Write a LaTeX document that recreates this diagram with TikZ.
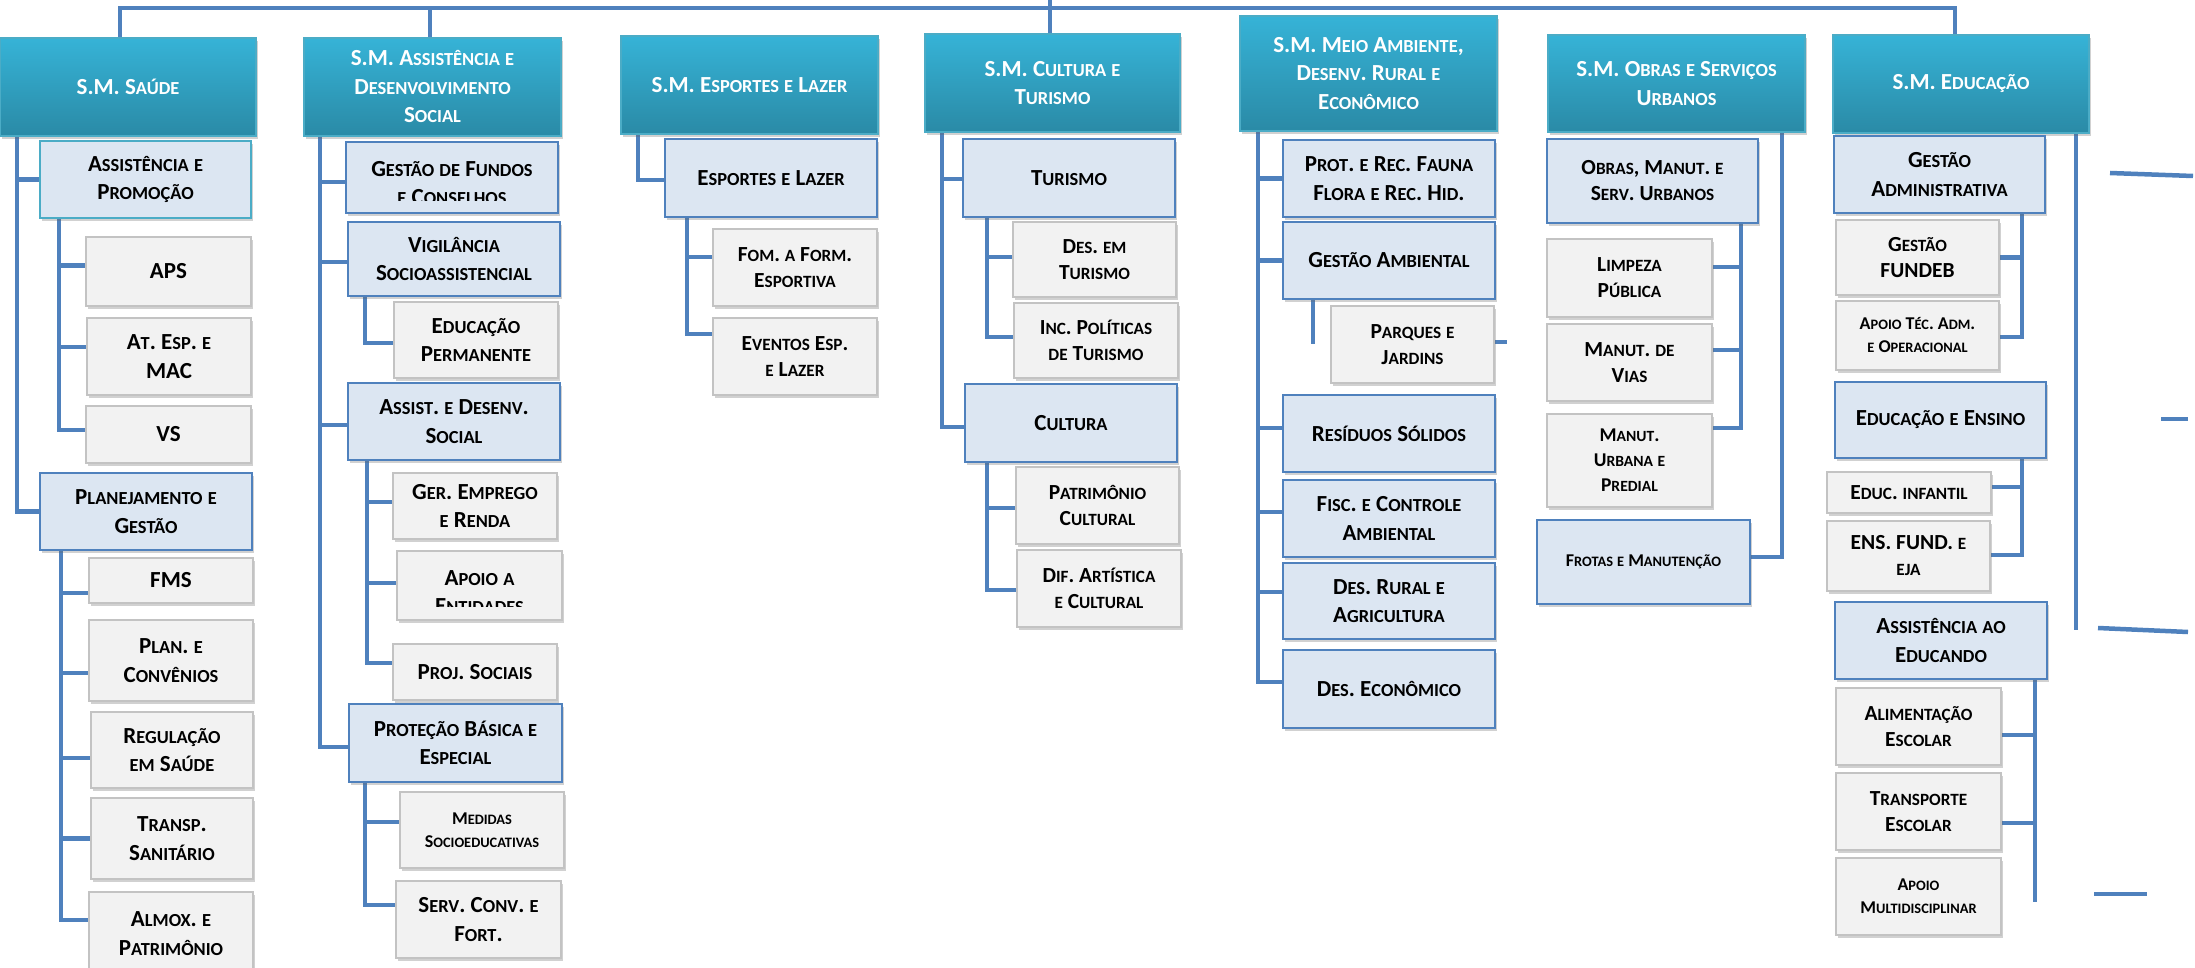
\documentclass[tikz,border=0pt]{standalone}
\usepackage{fontspec}
\setmainfont{Carlito}
\usetikzlibrary{shadows,backgrounds}
\definecolor{lineblue}{HTML}{4F81BD}
\definecolor{hdrtop}{HTML}{36B3D7}
\definecolor{hdrbot}{HTML}{2A8AA6}
\definecolor{hdrborder}{HTML}{4BACC6}
\definecolor{lonefill}{HTML}{DCE6F2}
\definecolor{ltwofill}{HTML}{F2F2F2}
\definecolor{ltwoborder}{HTML}{C3C3C3}
\ExplSyntaxOn
\tl_new:N \l__fsc_tl
\cs_new:Npn \fsc_space: {}
\cs_new_protected:Npn \__fsc_sm:n #1
  { { \fontsize{\fp_eval:n{0.8*\use:c{f@size}}}{0pt}\selectfont #1 } }
\cs_new_protected:Npn \__fsc_char:n #1
  {
    \token_if_eq_meaning:NNTF #1 \fsc_space:
      { ~ }
      {
        \str_if_eq:eeTF { #1 } { \text_uppercase:n { #1 } }
          { #1 }
          { \__fsc_sm:n { \text_uppercase:n { #1 } } }
      }
  }
\cs_new_protected:Npn \fsc #1
  {
    \tl_set:Nn \l__fsc_tl {#1}
    \tl_replace_all:Nnn \l__fsc_tl { ~ } { \fsc_space: }
    \tl_map_function:NN \l__fsc_tl \__fsc_char:n
  }
\ExplSyntaxOff
\tikzset{
  cbox/.style={anchor=north west, inner sep=1pt, outer sep=0pt, align=center, text=black,
    font=\bfseries\fontsize{23}{28.5}\selectfont},
  shd/.style={drop shadow={shadow xshift=2pt, shadow yshift=-3pt, opacity=0.3, fill=black!60}},
  hdr/.style={cbox, shd, draw=hdrborder, line width=2pt, top color=hdrtop, bottom color=hdrbot, text=white},
  lone/.style={cbox, shd, draw=lineblue, line width=2.5pt, fill=lonefill},
  ltwo/.style={cbox, shd, draw=ltwoborder, line width=2.5pt, fill=ltwofill},
  fmid/.style={font=\bfseries\fontsize{21.5}{26}\selectfont},
  fsmall/.style={font=\bfseries\fontsize{18}{23}\selectfont},
  txt/.style={align=center, inner sep=0pt, text=black, font=\bfseries\fontsize{23}{28.5}\selectfont},
  conn/.style={draw=lineblue, line width=4.5pt, line cap=rect},
  stray/.style={draw=lineblue, line width=4.5pt, line cap=butt}
}
\newcommand{\orgbox}[7]{\node[#1, minimum width={#5-#3}, minimum height={#6-#4}] (#2) at (#3,#4) {#7};}
\begin{document}
\begin{tikzpicture}[x=1pt,y=-1pt]
\useasboundingbox (0,0) rectangle (2195,968);
% headers
\orgbox{hdr}{h1}{0}{38}{256}{136}{\fsc{S.M. Saúde}}
\orgbox{hdr}{h2}{304}{38}{561}{136}{\fsc{S.M. Assistência e}\\\fsc{Desenvolvimento}\\\fsc{Social}}
\orgbox{hdr}{h3}{621}{36}{878}{134}{\fsc{S.M. Esportes e Lazer}}
\orgbox{hdr}{h4}{925}{34}{1180}{132}{\fsc{S.M. Cultura e}\\\fsc{Turismo}}
\orgbox{hdr}{h5}{1240}{16}{1497}{131}{\fsc{S.M. Meio Ambiente,}\\\fsc{Desenv. Rural e}\\\fsc{Econômico}}
\orgbox{hdr}{h6}{1548}{35}{1805}{132}{\fsc{S.M. Obras e Serviços}\\\fsc{Urbanos}}
\orgbox{hdr}{h7}{1833}{35}{2089}{133}{\fsc{S.M. Educação}}
% column 1
\orgbox{lone,draw=hdrborder}{a1}{40}{141}{251}{218}{\fsc{Assistência e}\\\fsc{Promoção}}
\orgbox{ltwo}{aps}{86}{237}{251}{306}{APS}
\orgbox{ltwo}{mac}{87}{318}{251}{395}{\fsc{At. Esp. e}\\MAC}
\orgbox{ltwo}{vs}{86}{406}{251}{463}{VS}
\orgbox{lone}{p1}{40}{473}{252}{550}{\fsc{Planejamento e}\\\fsc{Gestão}}
\orgbox{ltwo}{fms}{89}{558}{253}{603}{FMS}
\orgbox{ltwo}{pc}{89}{620}{253}{701}{\fsc{Plan. e}\\\fsc{Convênios}}
\orgbox{ltwo}{rg}{91}{712}{253}{788}{\fsc{Regulação}\\\fsc{em Saúde}}
\orgbox{ltwo}{ts}{91}{798}{253}{879}{\fsc{Transp.}\\\fsc{Sanitário}}
\orgbox{ltwo}{ax}{89}{892}{253}{975}{\fsc{Almox. e}\\\fsc{Patrimônio}}
% column 2
\orgbox{lone}{gf}{346}{142}{558}{213}{}
\begin{scope}
\clip (346,142) rectangle (558,201);
\node[txt] (gftext) at (452,183) {\fsc{Gestão de Fundos}\\\fsc{e Conselhos}};
\end{scope}
\orgbox{lone}{vg}{348}{222}{560}{296}{\fsc{Vigilância}\\\fsc{Socioassistencial}}
\orgbox{ltwo}{ep}{394}{302}{558}{378}{\fsc{Educação}\\\fsc{Permanente}}
\orgbox{lone}{ad}{348}{383}{560}{460}{\fsc{Assist. e Desenv.}\\\fsc{Social}}
\orgbox{ltwo}{ge}{393}{473}{557}{539}{\fsc{Ger. Emprego}\\\fsc{e Renda}}
\orgbox{ltwo}{ae}{397}{551}{562}{620}{}
\begin{scope}
\clip (397,551) rectangle (562,606);
\node[txt] (aetext) at (479.5,592) {\fsc{Apoio a}\\\fsc{Entidades}};
\end{scope}
\orgbox{ltwo}{ps}{393}{644}{557}{700}{\fsc{Proj. Sociais}}
\orgbox{lone}{pb}{349}{704}{562}{782}{\fsc{Proteção Básica e}\\\fsc{Especial}}
\orgbox{ltwo,fsmall}{md}{400}{792}{564}{868}{\fsc{Medidas}\\\fsc{Socioeducativas}}
\orgbox{ltwo}{sc}{396}{881}{561}{958}{\fsc{Serv. Conv. e}\\\fsc{Fort.}}
% column 3
\orgbox{lone}{el}{665}{139}{877}{217}{\fsc{Esportes e Lazer}}
\orgbox{ltwo,fmid}{fo}{713}{229}{877}{306}{\fsc{Fom. a Form.}\\\fsc{Esportiva}}
\orgbox{ltwo,fmid}{ev}{713}{318}{877}{395}{\fsc{Eventos Esp.}\\\fsc{e Lazer}}
% column 4
\orgbox{lone}{tu}{963}{139}{1175}{217}{\fsc{Turismo}}
\orgbox{ltwo,fmid}{dt}{1013}{222}{1176}{297}{\fsc{Des. em}\\\fsc{Turismo}}
\orgbox{ltwo,fmid}{ip}{1014}{303}{1178}{378}{\fsc{Inc. Políticas}\\\fsc{de Turismo}}
\orgbox{lone}{cu}{965}{384}{1177}{462}{\fsc{Cultura}}
\orgbox{ltwo,fmid}{pa}{1016}{467}{1179}{544}{\fsc{Patrimônio}\\\fsc{Cultural}}
\orgbox{ltwo,fmid}{da}{1017}{550}{1181}{627}{\fsc{Dif. Artística}\\\fsc{e Cultural}}
% column 5
\orgbox{lone}{pr}{1283}{140}{1495}{217}{\fsc{Prot. e Rec. Fauna}\\\fsc{Flora e Rec. Hid.}}
\orgbox{lone}{ga}{1283}{222}{1495}{299}{\fsc{Gestão Ambiental}}
\orgbox{ltwo,fmid}{pj}{1331}{306}{1494}{383}{\fsc{Parques e}\\\fsc{Jardins}}
\orgbox{lone}{rs}{1283}{395}{1495}{472}{\fsc{Resíduos Sólidos}}
\orgbox{lone}{fc}{1283}{480}{1495}{557}{\fsc{Fisc. e Controle}\\\fsc{Ambiental}}
\orgbox{lone}{dr}{1283}{563}{1495}{639}{\fsc{Des. Rural e}\\\fsc{Agricultura}}
\orgbox{lone}{de}{1283}{650}{1495}{728}{\fsc{Des. Econômico}}
% column 6
\orgbox{lone,fmid}{om}{1547}{139}{1758}{223}{\fsc{Obras, Manut. e}\\\fsc{Serv. Urbanos}}
\orgbox{ltwo,fmid}{lp}{1547}{239}{1712}{317}{\fsc{Limpeza}\\\fsc{Pública}}
\orgbox{ltwo,fmid}{mv}{1547}{324}{1712}{401}{\fsc{Manut. de}\\\fsc{Vias}}
\orgbox{ltwo,font=\bfseries\fontsize{19.5}{25}\selectfont}{mu}{1547}{414}{1712}{507}{\fsc{Manut.}\\\fsc{Urbana e}\\\fsc{Predial}}
\orgbox{lone,fsmall}{fr}{1537}{520}{1750}{604}{\fsc{Frotas e Manutenção}}
% column 7
\orgbox{lone}{gd}{1834}{136}{2045}{213}{\fsc{Gestão}\\\fsc{Administrativa}}
\orgbox{ltwo,fmid}{fu}{1836}{220}{1999}{295}{\fsc{Gestão}\\\fsc{FUNDEB}}
\orgbox{ltwo,fsmall}{atop}{1836}{301}{1999}{370}{\fsc{Apoio Téc. Adm.}\\\fsc{e Operacional}}
\orgbox{lone}{ee}{1835}{382}{2046}{458}{\fsc{Educação e Ensino}}
\orgbox{ltwo,fmid}{ei}{1827}{472}{1991}{513}{\fsc{Educ. infantil}}
\orgbox{ltwo,fmid}{ef}{1827}{521}{1990}{591}{\fsc{ENS. FUND. e}\\\fsc{eja}}
\orgbox{lone}{ax7}{1835}{602}{2047}{679}{\fsc{Assistência ao}\\\fsc{Educando}}
\orgbox{ltwo,fmid}{al}{1836}{688}{2001}{765}{\fsc{Alimentação}\\\fsc{Escolar}}
\orgbox{ltwo,fmid}{tes}{1836}{773}{2001}{850}{\fsc{Transporte}\\\fsc{Escolar}}
\orgbox{ltwo,fsmall}{am}{1836}{858}{2001}{935}{\fsc{Apoio}\\\fsc{Multidisciplinar}}
% connectors
\begin{pgfonlayer}{background}
\coordinate (topleft) at (120,8);
\coordinate (topright) at (1955,8);
\draw[conn] ([xshift=120pt]h1.north west) -- (topleft) -- (topright) -- ([xshift=122pt]h7.north west);
\draw[conn] ([xshift=126pt]h2.north west) -- ++(0,-30);
\draw[conn] ([xshift=125pt]h4.north west) -- ++(0,-36);
% col 1
\draw[conn] ([xshift=17pt]h1.south west) |- (a1.west);
\draw[conn] ([xshift=17pt]h1.south west) |- (p1.west);
\draw[conn] ([xshift=19pt]a1.south west) |- ([yshift=6pt]aps.west);
\draw[conn] ([xshift=19pt]a1.south west) |- ([yshift=9.5pt]mac.west);
\draw[conn] ([xshift=19pt]a1.south west) |- ([yshift=4.5pt]vs.west);
\draw[conn] ([xshift=21pt]p1.south west) |- ([yshift=-12.5pt]fms.west);
\draw[conn] ([xshift=21pt]p1.south west) |- ([yshift=-12.5pt]pc.west);
\draw[conn] ([xshift=21pt]p1.south west) |- ([yshift=-8pt]rg.west);
\draw[conn] ([xshift=21pt]p1.south west) |- (ts.west);
\draw[conn] ([xshift=21pt]p1.south west) |- ([yshift=13.5pt]ax.west);
% col 2
\draw[conn] ([xshift=16pt]h2.south west) |- ([yshift=-4.5pt]gf.west);
\draw[conn] ([xshift=16pt]h2.south west) |- ([yshift=-3pt]vg.west);
\draw[conn] ([xshift=16pt]h2.south west) |- ([yshift=-3.5pt]ad.west);
\draw[conn] ([xshift=16pt]h2.south west) |- ([yshift=-4pt]pb.west);
\draw[conn] ([xshift=17pt]vg.south west) |- ([yshift=-3pt]ep.west);
\draw[conn] ([xshift=19pt]ad.south west) |- ([yshift=4pt]ge.west);
\draw[conn] ([xshift=19pt]ad.south west) |- ([yshift=2.5pt]ae.west);
\draw[conn] ([xshift=19pt]ad.south west) |- ([yshift=9pt]ps.west);
\draw[conn] ([xshift=16pt]pb.south west) |- ([yshift=8pt]md.west);
\draw[conn] ([xshift=16pt]pb.south west) |- ([yshift=14.5pt]sc.west);
% col 3
\draw[conn] ([xshift=17pt]h3.south west) |- ([yshift=-2pt]el.west);
\draw[conn] ([xshift=22pt]el.south west) |- ([yshift=10.5pt]fo.west);
\draw[conn] ([xshift=22pt]el.south west) |- ([yshift=22.5pt]ev.west);
% col 4
\draw[conn] ([xshift=17pt]h4.south west) |- ([yshift=-1pt]tu.west);
\draw[conn] ([xshift=17pt]h4.south west) |- ([yshift=-4pt]cu.west);
\draw[conn] ([xshift=24pt]tu.south west) |- ([yshift=2.5pt]dt.west);
\draw[conn] ([xshift=24pt]tu.south west) |- ([yshift=3.5pt]ip.west);
\draw[conn] ([xshift=22pt]cu.south west) |- ([yshift=-2.5pt]pa.west);
\draw[conn] ([xshift=22pt]cu.south west) |- ([yshift=-1.5pt]da.west);
% col 5
\draw[conn] ([xshift=18pt]h5.south west) |- (pr.west);
\draw[conn] ([xshift=18pt]h5.south west) |- (ga.west);
\draw[conn] ([xshift=18pt]h5.south west) |- ([yshift=5.5pt]rs.west);
\draw[conn] ([xshift=18pt]h5.south west) |- ([yshift=6.5pt]fc.west);
\draw[conn] ([xshift=18pt]h5.south west) |- ([yshift=9pt]dr.west);
\draw[conn] ([xshift=18pt]h5.south west) |- ([yshift=7pt]de.west);
\draw[conn] ([xshift=30pt]ga.south west) -- ++(0,43);
\draw[conn] ([yshift=2.5pt]pj.east) -- ++(11,0);
% col 6
\draw[conn] ([xshift=-23pt]h6.south east) |- ([yshift=5pt]fr.east);
\draw[conn] ([xshift=-17pt]om.south east) |- ([yshift=11pt]lp.east);
\draw[conn] ([xshift=-17pt]om.south east) |- ([yshift=12.5pt]mv.east);
\draw[conn] ([xshift=-17pt]om.south east) |- ([yshift=32.5pt]mu.east);
% col 7
\draw[conn] ([xshift=-13pt]h7.south east) -- ++(0,495);
\draw[conn] ([xshift=-23pt]gd.south east) |- (fu.east);
\draw[conn] ([xshift=-23pt]gd.south east) |- ([yshift=-1.5pt]atop.east);
\draw[conn] ([xshift=-24pt]ee.south east) |- ([yshift=5.5pt]ei.east);
\draw[conn] ([xshift=-24pt]ee.south east) |- ([yshift=1pt]ef.east);
\draw[conn] ([xshift=-12pt]ax7.south east) -- ++(0,221);
\draw[conn] ([xshift=-12pt]ax7.south east) |- ([yshift=-8.5pt]al.east);
\draw[conn] ([xshift=-12pt]ax7.south east) |- ([yshift=-11.5pt]tes.east);
% stray marks
\draw[stray] (2110,173) -- (2193,176);
\draw[stray] (2161,419) -- (2188,419);
\draw[stray] (2098,628) -- (2188,632);
\draw[stray] (2094,894) -- (2147,894);
\end{pgfonlayer}
\end{tikzpicture}
\end{document}
